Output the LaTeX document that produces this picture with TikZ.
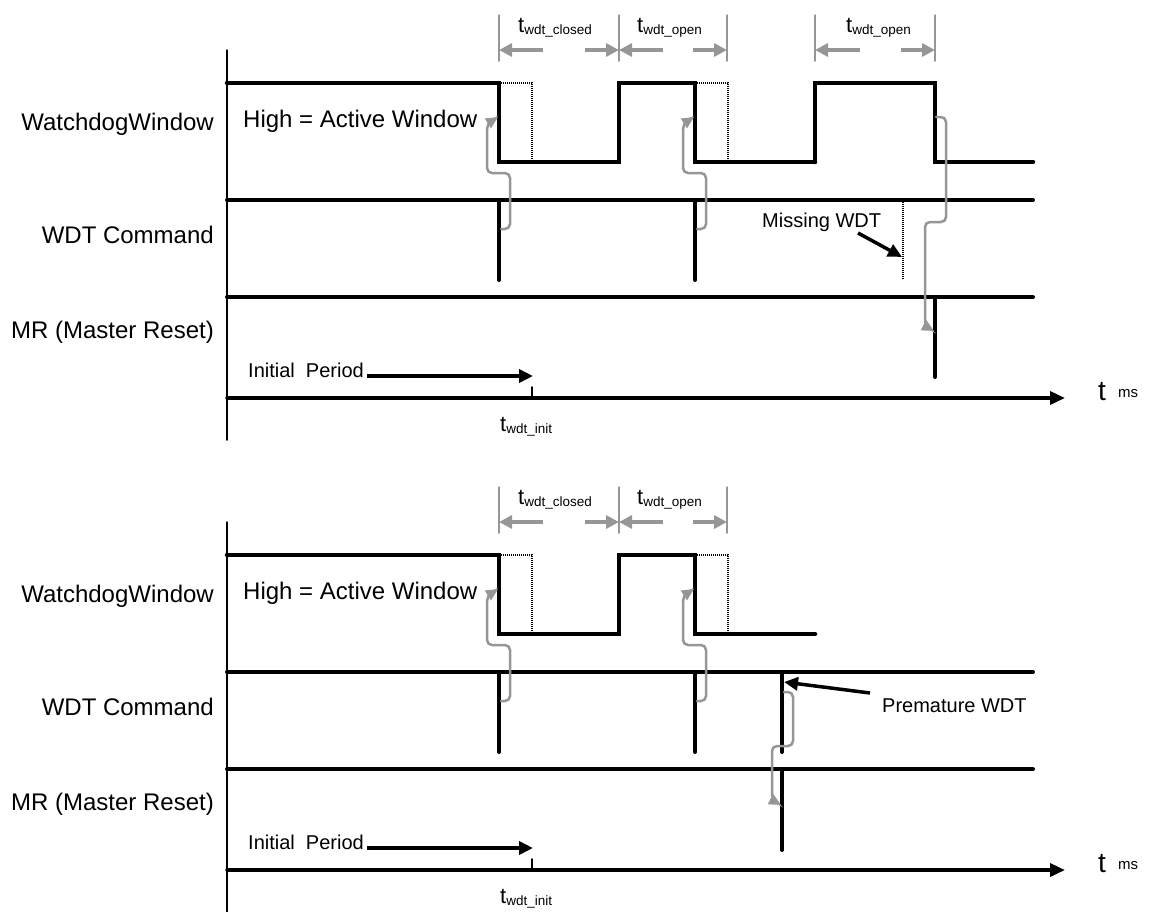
\documentclass[tikz,border=0pt]{standalone}
\usepackage{fontspec}
\setmainfont{Liberation Sans}
\usetikzlibrary{arrows.meta}
\definecolor{dimgrey}{RGB}{150,150,150}
\newcommand\tlabel[1]{{\fontsize{22}{24}\selectfont t}\raisebox{-2pt}{\fontsize{13.5}{15}\selectfont wdt\_#1}}

\begin{document}
\begin{tikzpicture}[x=1pt,y=-1pt,line cap=round,
		wave/.style={line width=4.5pt},
		bus/.style={line width=4pt},
		late/.style={line width=2pt,line cap=butt,dash pattern=on 1pt off 1pt},
		dimline/.style={dimgrey,line width=1.5pt},
		dimarrow/.style={dimgrey,line width=4.5pt,line cap=butt,-{Triangle[length=13pt,width=13pt]}},
		cause/.style={dimgrey,line width=2.5pt,rounded corners=5pt,-{Triangle[length=12pt,width=11pt]}},
		pointer/.style={line width=3.5pt,line cap=butt,-{Triangle[length=14pt,width=13pt]}},
		lbl/.style={font=\fontsize{24}{26}\selectfont,inner sep=0},
		note/.style={font=\fontsize{20}{22}\selectfont,inner sep=0}]
	\useasboundingbox (0,0) rectangle (1153,911);
	%both diagrams share the first two windows, shift the lower one by 472px
	\foreach \dy in {0,472}{
	\begin{scope}[yshift=-\dy pt]
		\node[lbl,anchor=base east] (ww\dy) at (214,130){WatchdogWindow};
		\node[lbl,anchor=base east] (cmd\dy) at (214,243){WDT Command};
		\node[lbl,anchor=base east] (mr\dy) at (214,338){MR (Master Reset)};
		\node[lbl,anchor=base west] (act\dy) at (243,127){High = Active Window};
		\draw[line width=1.5pt] (227,50)--(227,440);
		\draw[wave] (227,83)--(499,83)--(499,162)--(619,162)--(619,83)--(695,83)--(695,162)--(815,162);
		\draw[late] (499,83)--(532,83)--(532,162) (695,83)--(728,83)--(728,162);
		\draw[bus] (227,200)--(1033,200) (499,200)--(499,280) (695,200)--(695,280);
		\draw[bus] (227,297)--(1033,297);
		\foreach \x in {499,695}
			\draw[cause] (\x+2,229)--(\x+11,229)--(\x+11,173)--(\x-12,173)--(\x-12,124)--(\x-1,117);
		%window widths
		\foreach \x in {499,619,727}
			\draw[dimline] (\x,15)--(\x,61);
		\foreach \a/\b in {499/619,619/727}{
			\draw[dimarrow] (\a+44,50)--(\a,50);
			\draw[dimarrow] (\b-34,50)--(\b,50);}
		\node[anchor=base west,inner sep=0] (tc\dy) at (518,32){\tlabel{closed}};
		\node[anchor=base west,inner sep=0] (to\dy) at (637,32){\tlabel{open}};
		%time axis
		\draw[line width=3.5pt,-{Triangle[length=15pt,width=13pt]}] (227,398)--(1065,398);
		\draw[line width=2pt] (532,387)--(532,398);
		\node[anchor=base west,inner sep=0] (ti\dy) at (500,431){\tlabel{init}};
		\node[anchor=base west,inner sep=0] (t\dy) at (1098,400){\fontsize{28}{30}\selectfont t};
		\node[anchor=base west,inner sep=0] (ms\dy) at (1118,397){\fontsize{15}{17}\selectfont ms};
		\node[note,anchor=base west] (init\dy) at (248,377){Initial \ Period};
		\draw[pointer] (367,376)--(533,376);
	\end{scope}}
	%upper diagram: WDT missing in the third window
	\draw[wave] (815,162)--(815,83)--(935,83)--(935,162)--(1033,162);
	\draw[bus] (935,297)--(935,377);
	\draw[late] (903,200)--(903,280);
	\draw[dimline] (815,15)--(815,61) (935,15)--(935,61);
	\draw[dimarrow] (860,50)--(815,50);
	\draw[dimarrow] (901,50)--(935,50);
	\node[anchor=base west,inner sep=0] (to3) at (846,32){\tlabel{open}};
	\draw[cause] (936,117)--(946,117)--(946,222)--(925,222)--(925,326)--(934,331);
	\node[note,anchor=base west] (miss) at (762,227){Missing WDT};
	\coordinate (missat) at (902,257);
	\draw[pointer] (858,233)--(missat);
	%lower diagram: WDT during the closed window
	\begin{scope}[yshift=-472pt]
		\draw[bus] (782,200)--(782,280) (782,297)--(782,378);
		\draw[cause] (784,220)--(793,220)--(793,274)--(772,274)--(772,328)--(781,333);
		\node[note,anchor=base west] (early) at (882,240){Premature WDT};
		\coordinate (earlyat) at (784,210);
		\draw[pointer] (870,221)--(earlyat);
	\end{scope}
\end{tikzpicture}
\end{document}
